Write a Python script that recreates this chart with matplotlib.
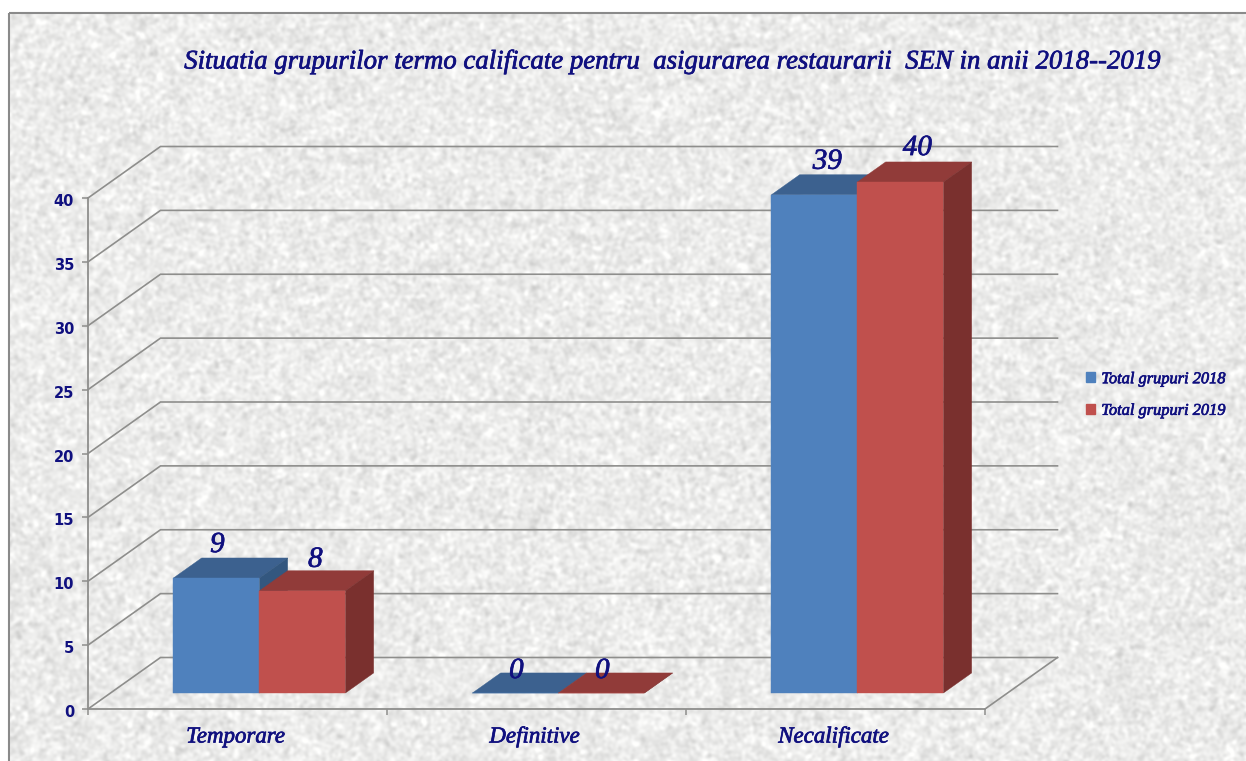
import numpy as np
import matplotlib
matplotlib.use("Agg")
import matplotlib.pyplot as plt
import matplotlib.patheffects as pe
from matplotlib.patches import Patch, Polygon, Rectangle
from matplotlib.transforms import ScaledTranslation

# ── Date ──────────────────────────────────────────────────
categories = ["Temporare", "Definitive", "Necalificate"]
series_names = ["Total grupuri 2018", "Total grupuri 2019"]
values_2018 = [9, 0, 39]
values_2019 = [8, 0, 40]
y_ticks = [0, 5, 10, 15, 20, 25, 30, 35, 40]
title = "Situatia grupurilor termo calificate pentru  asigurarea restaurarii  SEN in anii 2018--2019"

# ── Stil ──────────────────────────────────────────────────
NAVY = "#10107F"
GRID = "#8E8E8C"
FRONT = ["#4F81BD", "#C0504D"]
TOP = ["#3C618F", "#913B39"]
SIDE = ["#33577F", "#7A302E"]
SERIF = "Liberation Serif"
THICK = [pe.withStroke(linewidth=0.5, foreground=NAVY)]

W, H = 1246, 761
X0, X1, Y0, Y1 = 88, 985, 709, 198      # peretele din fata, in pixeli
DX_PX, DY_PX = 72.5, 51.5               # adancimea podelei
BAR_Z0, BAR_Z1 = 0.31, 0.70             # adancimea barelor
BAR_W = 0.2876

fig = plt.figure(figsize=(W / 100, H / 100), dpi=100, facecolor="white")

# fundal granulat (doar textura, nu date)
bg = fig.add_axes([0, 0, 1, 1], zorder=0)
bg.axis("off")
rng = np.random.default_rng(7)
fx, fy = np.meshgrid(np.fft.fftfreq(W), np.fft.fftfreq(H))
r2 = fx ** 2 + fy ** 2
tex = np.fft.ifft2(np.fft.fft2(rng.normal(size=(H, W))) * np.exp(-r2 * 2 * (np.pi * 1.7) ** 2)).real
tex = tex / tex.std()
shade = np.clip(0.925 + 0.028 * tex, 0.76, 1.0)
img = np.dstack([shade, shade, shade * 0.995])
bg.imshow(img, extent=(9, W, H, 13), aspect="auto", interpolation="bilinear", zorder=0)
bg.set_xlim(0, W)
bg.set_ylim(H, 0)
bg.add_patch(Rectangle((9, 13), W + 10, H, fill=False, ec="#8A8A8A", lw=1.5, zorder=1))

ax = fig.add_axes([X0 / W, 1 - Y0 / H, (X1 - X0) / W, (Y0 - Y1) / H], zorder=2)
ax.patch.set_alpha(0)
ax.set_xlim(0, len(categories))
ax.set_ylim(0, y_ticks[-1])
DX = DX_PX / ((X1 - X0) / len(categories))
DY = DY_PX / ((Y0 - Y1) / y_ticks[-1])


def proj(x, v, z):
    """Punct din spatiul 3D proiectat in coordonatele axei."""
    return x + z * DX, v + z * DY


# perete + podea
for t in y_ticks:
    ax.plot(*zip(proj(0, t, 0), proj(0, t, 1), proj(len(categories), t, 1)),
            color=GRID, lw=1.2, clip_on=False, zorder=1, solid_joinstyle="miter")
ax.plot(*zip(proj(len(categories), 0, 0), proj(len(categories), 0, 1)),
        color=GRID, lw=1.2, clip_on=False, zorder=1)

# axe
for s in ("top", "right"):
    ax.spines[s].set_visible(False)
for s in ("left", "bottom"):
    ax.spines[s].set_color(GRID)
    ax.spines[s].set_linewidth(1.3)
ax.set_yticks(y_ticks)
ax.set_xticks(range(len(categories) + 1))
ax.set_xticklabels([])
ax.tick_params(axis="both", color=GRID, width=1.1, length=4)
ax.tick_params(axis="y", pad=6, labelcolor=NAVY, labelsize=10.5)
shift_down = ScaledTranslation(0, -2 / 100, fig.dpi_scale_trans)
for lab in ax.get_yticklabels():
    lab.set_fontweight("bold")
    lab.set_transform(lab.get_transform() + shift_down)


def draw_bar(x, w, v, idx):
    xl, xr = x, x + w
    faces = [
        ([proj(xl, v, BAR_Z0), proj(xr, v, BAR_Z0), proj(xr, v, BAR_Z1), proj(xl, v, BAR_Z1)], TOP[idx]),
        ([proj(xr, 0, BAR_Z0), proj(xr, v, BAR_Z0), proj(xr, v, BAR_Z1), proj(xr, 0, BAR_Z1)], SIDE[idx]),
        ([proj(xl, 0, BAR_Z0), proj(xr, 0, BAR_Z0), proj(xr, v, BAR_Z0), proj(xl, v, BAR_Z0)], FRONT[idx]),
    ]
    for pts, col in faces:
        ax.add_patch(Polygon(pts, closed=True, fc=col, ec=col, lw=0.3, clip_on=False, zorder=3 + idx))


label_nudge = {(0, 0): (1, 33), (0, 1): (13, 31), (1, 0): (1, 22), (1, 1): (1, 22),
               (2, 0): (13, 33), (2, 1): (17, 34)}

for c, vals in enumerate(zip(values_2018, values_2019)):
    centre = c + 0.5
    for i, v in enumerate(vals):
        xl = centre - BAR_W + i * BAR_W - 0.002
        draw_bar(xl, BAR_W, v, i)
        ax.annotate(str(v), xy=proj(xl + BAR_W / 2, v, BAR_Z0), xytext=label_nudge[(c, i)],
                    textcoords="offset pixels", ha="center", va="center", annotation_clip=False,
                    family=SERIF, style="italic", fontsize=21, color=NAVY, zorder=8,
                    path_effects=THICK)
    ax.annotate(categories[c], xy=(centre, 0), xytext=(-2, -28), textcoords="offset pixels",
                ha="center", va="center", annotation_clip=False,
                family=SERIF, style="italic", fontsize=16.5, color=NAVY, path_effects=THICK)

fig.text(671 / W, 1 - 62 / H, title, ha="center", va="center", family=SERIF, style="italic",
         fontsize=19.3, color=NAVY, zorder=5, path_effects=THICK)

handles = [Patch(fc=FRONT[0], ec=FRONT[0]), Patch(fc=FRONT[1], ec=FRONT[1])]
leg = fig.legend(handles, series_names, loc="center left", bbox_to_anchor=(1071 / W, 1 - 395 / H),
                 frameon=False, handlelength=0.55, handleheight=0.55, handletextpad=0.4,
                 labelspacing=0.95, prop={"family": SERIF, "style": "italic", "size": 11.8})
for txt in leg.get_texts():
    txt.set_color(NAVY)
    txt.set_path_effects(THICK)

fig.savefig("out.png", dpi=100, facecolor="white")
